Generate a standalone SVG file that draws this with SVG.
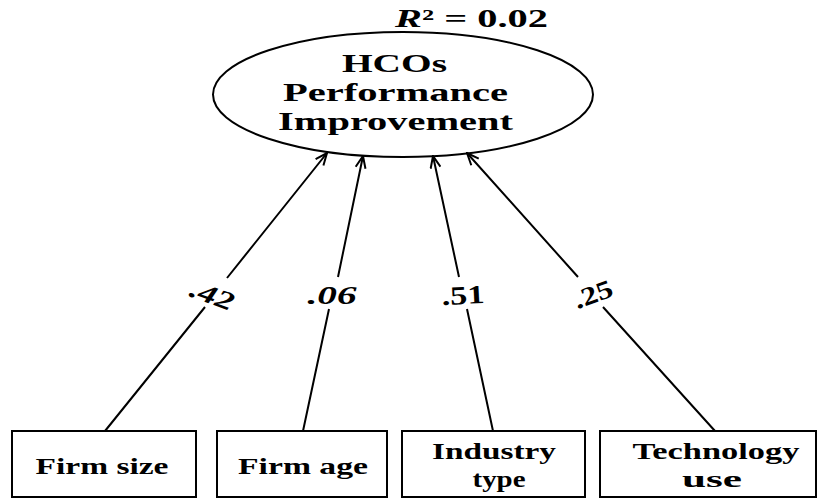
<svg xmlns="http://www.w3.org/2000/svg" width="820" height="498" viewBox="0 0 820 498">
<style>
text{font-family:"Liberation Serif","Times New Roman",serif;font-weight:bold;fill:#000;text-anchor:middle}
.box{fill:#fff;stroke:#000;stroke-width:2}
.conn{stroke:#000;stroke-width:2;fill:none;marker-end:url(#arr)}
.big{font-size:26px}
.lbl{font-size:24px}
.r2{font-size:25px}
.coef{font-size:26px}
</style>
<defs>
<marker id="arr" viewBox="0 0 14 12" refX="13" refY="6" markerWidth="14" markerHeight="12" markerUnits="userSpaceOnUse" orient="auto">
<path d="M1,1 L13,6 L1,11" fill="none" stroke="#000" stroke-width="2"/>
</marker>
</defs>
<rect width="820" height="498" fill="#fff"/>
<g id="connectors">
<path class="conn" d="M105,431 L205,307 M227,278 L327,153"/>
<path class="conn" d="M303,431 L329,309 M338,277 L363,156"/>
<path class="conn" d="M493,431 L467,309 M459,277 L433,156"/>
<path class="conn" d="M715,431 L603,307 M578,277 L467,153"/>
</g>
<g id="hcos">
<ellipse cx="403" cy="94.5" rx="190" ry="62.5" fill="none" stroke="#000" stroke-width="2"/>
<text class="big" x="394.5" y="72" textLength="105" lengthAdjust="spacingAndGlyphs">HCOs</text>
<text class="big" x="395.5" y="101" textLength="225" lengthAdjust="spacingAndGlyphs">Performance</text>
<text class="big" x="395.5" y="130" textLength="235" lengthAdjust="spacingAndGlyphs">Improvement</text>
<text class="r2" x="471.5" y="27" textLength="153" lengthAdjust="spacingAndGlyphs"><tspan font-style="italic">R</tspan>² = 0.02</text>
</g>
<g id="coefs">
<text class="coef" x="212" y="304" font-style="italic" textLength="45" lengthAdjust="spacingAndGlyphs" transform="rotate(20 212 296)">.42</text>
<text class="coef" x="332" y="304" font-style="italic" textLength="49" lengthAdjust="spacingAndGlyphs">.06</text>
<text class="coef" x="463" y="304" textLength="43" lengthAdjust="spacingAndGlyphs" transform="rotate(-3 463 296)">.51</text>
<text class="coef" x="593" y="303" textLength="40" lengthAdjust="spacingAndGlyphs" transform="rotate(-20 593 294)">.25</text>
</g>
<g id="firm-size">
<rect class="box" x="12" y="431" width="184" height="66"/>
<text class="lbl" x="102" y="474" textLength="133" lengthAdjust="spacingAndGlyphs">Firm size</text>
</g>
<g id="firm-age">
<rect class="box" x="217" y="431" width="170" height="66"/>
<text class="lbl" x="303" y="474" textLength="130" lengthAdjust="spacingAndGlyphs">Firm age</text>
</g>
<g id="industry-type">
<rect class="box" x="402" y="431" width="183" height="66"/>
<text class="lbl" x="494" y="459" textLength="124" lengthAdjust="spacingAndGlyphs">Industry</text>
<text class="lbl" x="499" y="487" textLength="53" lengthAdjust="spacingAndGlyphs">type</text>
</g>
<g id="technology-use">
<rect class="box" x="600" y="431" width="216" height="66"/>
<text class="lbl" x="716" y="459" textLength="167" lengthAdjust="spacingAndGlyphs">Technology</text>
<text class="lbl" x="712" y="487" textLength="60" lengthAdjust="spacingAndGlyphs">use</text>
</g>
</svg>
